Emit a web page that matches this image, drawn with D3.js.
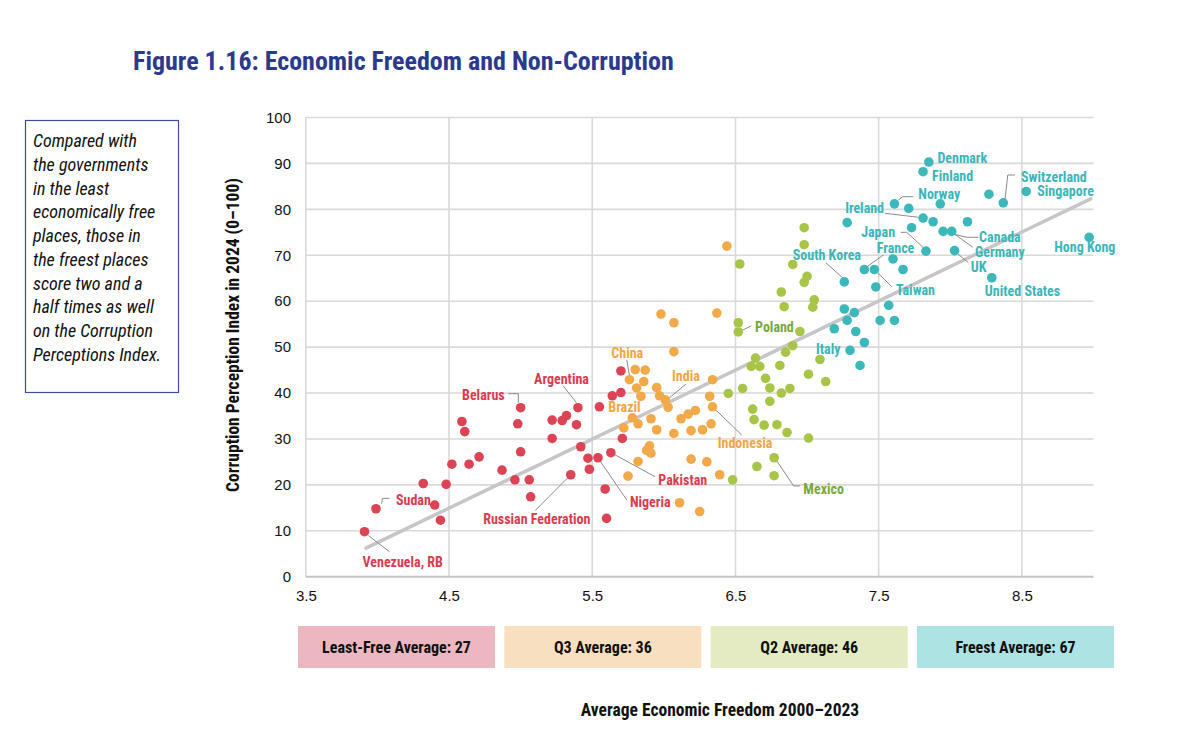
<!DOCTYPE html>
<html>
<head>
<meta charset="utf-8">
<script src="https://cdn.jsdelivr.net/npm/d3@7"></script>
<style>
  body { margin: 0; background: #fff; }
  svg { display: block; font-family: "Roboto Condensed", "Liberation Sans Narrow", "DejaVu Sans Condensed", Roboto, sans-serif; }
</style>
</head>
<body>
<script>
// [economic freedom, corruption perception index, optional name]
const leastFree = [
  [3.91, 9.8, 'Venezuela, RB'], [3.99, 14.8, 'Sudan'], [4.32, 20.3], [4.40, 15.6], [4.44, 12.3],
  [4.48, 20.1], [4.52, 24.5], [4.59, 33.8], [4.61, 31.6], [4.64, 24.5], [4.71, 26.1], [4.87, 23.2],
  [4.96, 21.1], [4.98, 33.3], [5.00, 36.8, 'Belarus'], [5.00, 27.2], [5.06, 21.1], [5.07, 17.4],
  [5.22, 34.1], [5.22, 30.1], [5.29, 34.0], [5.32, 35.1], [5.35, 22.2, 'Russian Federation'],
  [5.39, 33.1], [5.40, 36.8, 'Argentina'], [5.42, 28.3], [5.47, 25.8], [5.48, 23.4],
  [5.54, 25.9, 'Nigeria'], [5.55, 37.0], [5.59, 19.1], [5.60, 12.7], [5.63, 27.0, 'Pakistan'],
  [5.64, 39.4], [5.70, 40.1], [5.70, 44.8], [5.71, 30.1]
];

const q3 = [
  [5.72, 32.4], [5.75, 21.9], [5.76, 42.9, 'China'], [5.78, 34.6, 'Brazil'], [5.80, 45.1], [5.81, 41.1],
  [5.82, 33.3], [5.82, 25.1], [5.84, 39.3], [5.86, 42.5], [5.87, 45.0], [5.88, 27.5], [5.90, 28.5],
  [5.91, 26.9], [5.91, 34.4], [5.95, 41.2], [5.95, 32.0], [5.97, 39.4], [5.98, 57.2],
  [6.01, 38.5, 'India'], [6.03, 36.9], [6.07, 55.3], [6.07, 49.0], [6.07, 31.2], [6.11, 16.1],
  [6.12, 34.4], [6.17, 35.4], [6.19, 31.8], [6.19, 25.6], [6.22, 36.2], [6.25, 14.2], [6.27, 32.0],
  [6.30, 25.0], [6.32, 39.3], [6.33, 33.3], [6.34, 42.9], [6.34, 37.0, 'Indonesia'], [6.37, 57.4],
  [6.39, 22.2], [6.44, 72.0]
];

const q2 = [
  [6.45, 39.9], [6.48, 21.1], [6.52, 55.3], [6.52, 53.3, 'Poland'], [6.53, 68.1], [6.55, 41.0],
  [6.61, 45.8], [6.62, 36.5], [6.63, 34.2], [6.64, 47.6], [6.65, 24.0], [6.67, 45.8], [6.70, 33.0],
  [6.71, 43.2], [6.74, 41.1], [6.74, 38.2], [6.77, 25.9, 'Mexico'], [6.77, 22.0], [6.79, 33.1],
  [6.81, 46.0], [6.82, 62.0], [6.82, 40.0], [6.84, 58.8], [6.85, 48.9], [6.86, 31.4], [6.88, 41.0],
  [6.90, 68.0], [6.90, 50.3], [6.95, 53.4], [6.98, 76.0], [6.98, 72.3], [6.98, 64.1], [7.00, 65.4],
  [7.01, 44.1], [7.01, 30.2], [7.04, 58.7], [7.05, 60.3], [7.09, 47.3], [7.13, 42.5]
];

const freest = [
  [7.19, 54.0], [7.26, 64.2, 'South Korea'], [7.26, 58.3], [7.28, 55.8], [7.28, 77.1],
  [7.30, 49.3, 'Italy'], [7.33, 57.5], [7.34, 53.4], [7.37, 46.0], [7.40, 66.9, 'France'],
  [7.40, 51.0], [7.47, 66.9, 'Taiwan'], [7.48, 63.1], [7.51, 55.8], [7.57, 59.1], [7.60, 69.2],
  [7.61, 81.2, 'Norway'], [7.61, 55.8], [7.67, 66.9], [7.71, 80.2], [7.73, 76.0],
  [7.81, 88.2, 'Finland'], [7.81, 78.1, 'Ireland'], [7.83, 70.9, 'Japan'], [7.85, 90.3, 'Denmark'],
  [7.88, 77.3], [7.93, 81.2], [7.95, 75.2, 'Canada'], [8.01, 75.2, 'Germany'], [8.03, 71.0, 'UK'],
  [8.12, 77.3], [8.27, 83.3], [8.29, 65.1, 'United States'], [8.37, 81.4, 'Switzerland'],
  [8.53, 83.9, 'Singapore'], [8.97, 73.9, 'Hong Kong']
];

const quartileNames = ['Least-Free', 'Q3', 'Q2', 'Freest'];
const quartileAvg = [27, 36, 46, 67];
const xTicks = [3.5, 4.5, 5.5, 6.5, 7.5, 8.5];
const yTicks = [0, 10, 20, 30, 40, 50, 60, 70, 80, 90, 100];

// fitted line: cpi = intercept + slope * freedom
const trendSlope = 15.03;
const trendIntercept = -52.7;
const trendRange = [3.92, 8.98];

const dotColors = ['#dc4456', '#f2a949', '#a9c548', '#3cb8ba'];
const labelColors = ['#d73c4f', '#f0a646', '#79a83c', '#3cb5b8'];
const boxColors = ['#ecb7bf', '#f8dfc0', '#e4ebc2', '#ade3e2'];

// label placement relative to the dot, in pixels
const notes = {
  'Venezuela, RB': { dx: -2, dy: 30, leader: [[4, 4], [25, 20]] },
  'Sudan': { dx: 20, dy: -9, leader: [[5.5, -5], [6.5, -10.4], [13.5, -10.4]] },
  'Belarus': { dx: -16, dy: -12.7, anchor: 'end', leader: [[-12.3, -14], [-2.3, -14], [-2.3, -5]] },
  'Argentina': { dx: -16.4, dy: -28.7, anchor: 'middle', leader: [[-14.6, -21.7], [-1.5, -5]] },
  'Russian Federation': { dx: 19.6, dy: 44.2, anchor: 'end', leader: [[-35.7, 35.9], [-3, 3]] },
  'Pakistan': { dx: 47.5, dy: 27.3, leader: [[3, 1.5], [44.2, 24]] },
  'Nigeria': { dx: 32, dy: 44.5, leader: [[2, 3], [28.8, 42.2]] },
  'China': { dx: -2.2, dy: -26.4, anchor: 'middle', leader: [[-2.7, -19.7], [0, -4]] },
  'Brazil': { dx: -24, dy: -11.1 },
  'India': { dx: 6.8, dy: -24.2, leader: [[20.8, -15.9], [4, -2]] },
  'Indonesia': { dx: 5.2, dy: 36.5, leader: [[29.2, 28.2], [2.5, 2.5]] },
  'Poland': { dx: 16.7, dy: -5.2, leader: [[3.5, -1.5], [13, -6]] },
  'Mexico': { dx: 29.2, dy: 31.5, leader: [[2, 2], [19.5, 28.2], [26, 28.2]] },
  'Denmark': { dx: 8.6, dy: -3.7 },
  'Finland': { dx: 9, dy: 4 },
  'Norway': { dx: 23.9, dy: -9.8, leader: [[3.9, -3.8], [8.3, -7.1], [18.9, -7.1]] },
  'Switzerland': { dx: 17.8, dy: -26.2, leader: [[11.8, -27.9], [4.5, -27.9], [1.8, -4]] },
  'Singapore': { dx: 11, dy: -0.7 },
  'Ireland': { dx: -39, dy: -9.8, anchor: 'end', leader: [[-38, -4.8], [-5, -0.8]] },
  'Japan': { dx: -30.9, dy: -18.8, anchor: 'end', leader: [[-25.2, -18.8], [-19.2, -18.8], [-2, -3]] },
  'France': { dx: 12.4, dy: -21.2, leader: [[19, -14.5], [3, -3]] },
  'Canada': { dx: 36, dy: 5.3, leader: [[35.3, 5.9], [23.7, 5.9], [4, 1.3]] },
  'Germany': { dx: 23.4, dy: 20.9, leader: [[21.1, 15.9], [2.5, 2.5]] },
  'UK': { dx: 16.2, dy: 16, leader: [[13.8, 12], [3, 3]] },
  'United States': { dx: -7, dy: 13.2 },
  'Hong Kong': { dx: -35, dy: 9.3 },
  'South Korea': { dx: -51.5, dy: -26.9, leader: [[-18.5, -19.2], [-1.5, -4]] },
  'Taiwan': { dx: 21.7, dy: 20.5, leader: [[17.4, 17.2], [2.4, 2.4]] },
  'Italy': { dx: -34, dy: -1 }
};

const groups = [leastFree, q3, q2, freest];

const svg = d3.select('body').append('svg')
  .attr('width', 1194)
  .attr('height', 752);

const x = d3.scaleLinear().domain([3.5, 9.0]).range([305.8, 1093.5]);
const y = d3.scaleLinear().domain([0, 100]).range([576.7, 117.5]);

// title
svg.append('text')
  .attr('x', 133).attr('y', 61).attr('dy', '0.35em')
  .attr('fill', '#2c3a8e')
  .style('font-size', '26px').style('font-weight', 700)
  .text('Figure 1.16: Economic Freedom and Non-Corruption');

// side note
svg.append('rect')
  .attr('x', 25.5).attr('y', 120.5).attr('width', 153).attr('height', 272)
  .attr('fill', 'none').attr('stroke', '#3d4c9c').attr('stroke-width', 1.2);

const noteLines = ['Compared with', 'the governments', 'in the least', 'economically free',
  'places, those in', 'the freest places', 'score two and a', 'half times as well',
  'on the Corruption', 'Perceptions Index.'];

svg.append('g').selectAll('text').data(noteLines)
  .enter().append('text')
  .attr('x', 33)
  .attr('y', (d, i) => 141 + i * 23.7)
  .attr('dy', '0.35em')
  .style('font-size', '18px').style('font-style', 'italic')
  .attr('fill', '#111')
  .text(d => d);

// grid
const grid = svg.append('g');
grid.selectAll('line.h').data(yTicks.filter(d => d > 0))
  .enter().append('line')
  .attr('x1', x(3.5)).attr('x2', x(9.0))
  .attr('y1', d => y(d)).attr('y2', d => y(d))
  .attr('stroke', '#d9d9d9').attr('stroke-width', 1.6);

grid.selectAll('line.v').data(xTicks)
  .enter().append('line')
  .attr('x1', d => x(d)).attr('x2', d => x(d))
  .attr('y1', y(100)).attr('y2', y(0))
  .attr('stroke', '#d9d9d9').attr('stroke-width', 1.6);

grid.append('line')
  .attr('x1', x(3.5)).attr('x2', x(9.0))
  .attr('y1', y(0)).attr('y2', y(0))
  .attr('stroke', '#c4c4c4').attr('stroke-width', 2);

// axis labels
const yAxis = d3.axisLeft(y).tickValues(yTicks).tickSize(0).tickPadding(0);
svg.append('g')
  .attr('transform', 'translate(291,0)')
  .call(yAxis)
  .call(g => g.select('.domain').remove())
  .selectAll('text')
  .style('font-size', '15px').style('font-family', 'inherit').attr('fill', '#111');

const xAxis = d3.axisBottom(x).tickValues(xTicks).tickFormat(d3.format('.1f')).tickSize(0).tickPadding(0);
svg.append('g')
  .attr('transform', 'translate(0,590)')
  .call(xAxis)
  .call(g => g.select('.domain').remove())
  .selectAll('text')
  .style('font-size', '15px').style('font-family', 'inherit').attr('fill', '#111');

svg.append('text')
  .attr('transform', 'translate(239,335) rotate(-90)')
  .attr('text-anchor', 'middle')
  .style('font-size', '17.5px').style('font-weight', 700)
  .attr('fill', '#111')
  .text('Corruption Perception Index in 2024 (0–100)');

svg.append('text')
  .attr('x', 720).attr('y', 710).attr('dy', '0.35em')
  .attr('text-anchor', 'middle')
  .style('font-size', '17.5px').style('font-weight', 700)
  .attr('fill', '#111')
  .text('Average Economic Freedom 2000–2023');

// trend line
svg.append('line')
  .attr('x1', x(trendRange[0])).attr('y1', y(trendIntercept + trendSlope * trendRange[0]))
  .attr('x2', x(trendRange[1])).attr('y2', y(trendIntercept + trendSlope * trendRange[1]))
  .attr('stroke', '#c6c6c6').attr('stroke-width', 3.5).attr('stroke-linecap', 'round');

// leaders, dots, labels
const labelled = [];
groups.forEach((pts, gi) => pts.forEach(p => { if (p[2]) labelled.push({ p, gi }); }));

const line = d3.line();
svg.append('g').selectAll('path').data(labelled.filter(d => notes[d.p[2]].leader))
  .enter().append('path')
  .attr('d', d => line(notes[d.p[2]].leader.map(([dx, dy]) => [x(d.p[0]) + dx, y(d.p[1]) + dy])))
  .attr('fill', 'none').attr('stroke', '#8a8a8a').attr('stroke-width', 1);

groups.forEach((pts, gi) => {
  svg.append('g').selectAll('circle').data(pts)
    .enter().append('circle')
    .attr('cx', d => x(d[0]))
    .attr('cy', d => y(d[1]))
    .attr('r', 4.8)
    .attr('fill', dotColors[gi]);
});

svg.append('g').selectAll('text').data(labelled)
  .enter().append('text')
  .attr('x', d => x(d.p[0]) + notes[d.p[2]].dx)
  .attr('y', d => y(d.p[1]) + notes[d.p[2]].dy)
  .attr('dy', '0.35em')
  .attr('text-anchor', d => notes[d.p[2]].anchor || 'start')
  .attr('fill', d => labelColors[d.gi])
  .style('font-size', '14px').style('font-weight', 700)
  .text(d => d.p[2]);

// quartile average boxes
const band = d3.scaleBand().domain(quartileNames).range([298, 1114]).paddingInner(0.045);
const boxes = svg.append('g').selectAll('g').data(quartileNames)
  .enter().append('g')
  .attr('transform', d => `translate(${band(d)},626)`);

boxes.append('rect')
  .attr('width', band.bandwidth()).attr('height', 42)
  .attr('fill', (d, i) => boxColors[i]);

boxes.append('text')
  .attr('x', band.bandwidth() / 2).attr('y', 21).attr('dy', '0.35em')
  .attr('text-anchor', 'middle')
  .style('font-size', '16px').style('font-weight', 700)
  .attr('fill', '#111')
  .text((d, i) => `${d} Average: ${quartileAvg[i]}`);
</script>
</body>
</html>
